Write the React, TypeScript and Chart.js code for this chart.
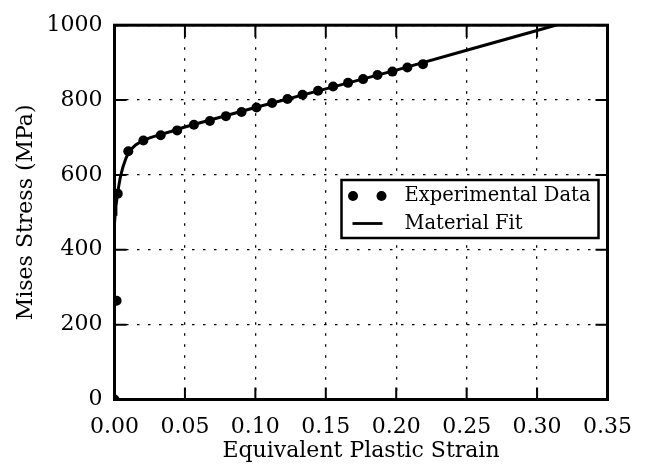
import React, { useEffect, useRef } from "react";
import { Chart, registerables } from "chart.js";

Chart.register(...registerables);

// Experimental data (equivalent plastic strain, Mises stress MPa)
const expStrain = [0, 0.0015, 0.0023, 0.0098, 0.0205, 0.0328, 0.0445, 0.0564, 0.0677, 0.0791, 0.0902, 0.1008, 0.1119, 0.1228, 0.1335, 0.1445, 0.1552, 0.1658, 0.1765, 0.1867, 0.1973, 0.2079, 0.219];
const expStress = [0, 264, 550, 663, 692, 706, 719, 734, 744, 757, 768, 780, 792, 803, 814, 825, 836, 846, 856, 867, 876, 887, 896];

// Material fit curve
const fitStrain = [0, 0.0005, 0.001, 0.002, 0.003, 0.004, 0.005, 0.006, 0.008, 0.01, 0.0125, 0.015, 0.02, 0.025, 0.03, 0.04, 0.05, 0.1, 0.15, 0.2, 0.25, 0.3, 0.313];
const fitStress = [470, 495, 516, 545, 570, 591, 607, 621, 643, 661, 671, 680, 692, 699, 705, 716, 728, 780, 830, 880, 933, 986, 1000];

const xTicks = [0, 0.05, 0.1, 0.15, 0.2, 0.25, 0.3, 0.35];
const yTicks = [0, 200, 400, 600, 800, 1000];

const xTitle = "Equivalent Plastic Strain";
const yTitle = "Mises Stress (MPa)";
const expLabel = "Experimental Data";
const fitLabel = "Material Fit";

const FONT = "'DejaVu Serif', serif";

const framePlugin = {
  id: "frameTicksLegend",
  afterDraw(chart: any) {
    const { ctx, chartArea: a, scales } = chart;
    const xs = scales.x;
    const ys = scales.y;
    ctx.save();
    // inward ticks
    ctx.strokeStyle = "#000";
    ctx.lineWidth = 2;
    ctx.setLineDash([]);
    const tl = 12;
    xTicks.forEach((v) => {
      const px = xs.getPixelForValue(v);
      ctx.beginPath();
      ctx.moveTo(px, a.bottom);
      ctx.lineTo(px, a.bottom - tl);
      ctx.moveTo(px, a.top);
      ctx.lineTo(px, a.top + tl);
      ctx.stroke();
    });
    yTicks.forEach((v) => {
      const py = ys.getPixelForValue(v);
      ctx.beginPath();
      ctx.moveTo(a.left, py);
      ctx.lineTo(a.left + tl, py);
      ctx.moveTo(a.right, py);
      ctx.lineTo(a.right - tl, py);
      ctx.stroke();
    });
    // frame
    ctx.lineWidth = 3;
    ctx.strokeRect(a.left, a.top, a.right - a.left, a.bottom - a.top);

    // legend
    const bx = a.left + 227;
    const by = 180;
    const bw = 257;
    const bh = 58;
    ctx.fillStyle = "#fff";
    ctx.fillRect(bx, by, bw, bh);
    ctx.lineWidth = 2.5;
    ctx.strokeRect(bx, by, bw, bh);
    const r1 = by + 16;
    const r2 = by + 43.5;
    ctx.fillStyle = "#000";
    [bx + 11.5, bx + 40].forEach((cx) => {
      ctx.beginPath();
      ctx.arc(cx, r1, 5, 0, Math.PI * 2);
      ctx.fill();
    });
    ctx.lineWidth = 2.8;
    ctx.beginPath();
    ctx.moveTo(bx + 11, r2);
    ctx.lineTo(bx + 41, r2);
    ctx.stroke();
    ctx.font = "19.5px " + FONT;
    ctx.textAlign = "left";
    ctx.textBaseline = "middle";
    ctx.fillText(expLabel, bx + 63, r1);
    ctx.fillText(fitLabel, bx + 63, r2);
    ctx.restore();
  },
};

export default function App() {
  const ref = useRef<HTMLCanvasElement>(null);
  useEffect(() => {
    if (!ref.current) return;
    const chart = new Chart(ref.current, {
      type: "scatter",
      data: {
        datasets: [
          {
            label: fitLabel,
            data: fitStrain.map((x, i) => ({ x, y: fitStress[i] })),
            showLine: true,
            borderColor: "#000",
            borderWidth: 3,
            pointRadius: 0,
            tension: 0,
            order: 2,
          },
          {
            label: expLabel,
            data: expStrain.map((x, i) => ({ x, y: expStress[i] })),
            showLine: false,
            pointRadius: 5,
            pointBackgroundColor: "#000",
            pointBorderColor: "#000",
            pointBorderWidth: 0,
            order: 1,
          },
        ],
      },
      options: {
        responsive: false,
        animation: false,
        devicePixelRatio: 1,
        layout: { padding: { top: 18.5, right: 39, left: 0, bottom: 0 } },
        plugins: { legend: { display: false }, tooltip: { enabled: false } },
        scales: {
          x: {
            type: "linear",
            min: 0,
            max: 0.35,
            afterFit: (s: any) => {
              s.height = 66.5;
            },
            afterBuildTicks: (s: any) => {
              s.ticks = xTicks.map((v) => ({ value: v }));
            },
            ticks: {
              color: "#000",
              font: { family: FONT, size: 22 },
              padding: 15,
              maxRotation: 0,
              autoSkip: false,
              callback: (v: any) => Number(v).toFixed(2),
            },
            grid: { color: "#000", lineWidth: 1.3, drawTicks: false },
            border: { display: false, dash: [2.5, 8.5] },
            title: {
              display: true,
              text: xTitle,
              color: "#000",
              font: { family: FONT, size: 22 },
              padding: { top: 0, bottom: 2 },
            },
          },
          y: {
            type: "linear",
            min: 0,
            max: 1000,
            afterFit: (s: any) => {
              s.width = 114.5;
            },
            afterBuildTicks: (s: any) => {
              s.ticks = yTicks.map((v) => ({ value: v }));
            },
            ticks: {
              color: "#000",
              font: { family: FONT, size: 22 },
              padding: 12,
              autoSkip: false,
              callback: (v: any) => String(v),
            },
            grid: { color: "#000", lineWidth: 1.3, drawTicks: false },
            border: { display: false, dash: [2.5, 8.5] },
            title: {
              display: true,
              text: yTitle,
              color: "#000",
              font: { family: FONT, size: 22 },
              padding: { top: 13, bottom: 0 },
            },
          },
        },
      },
      plugins: [framePlugin],
    });
    return () => chart.destroy();
  }, []);
  return (
    <div style={{ position: "fixed", left: 0, top: 0, width: 647, height: 466, background: "#fff" }}>
      <canvas ref={ref} width={647} height={466} />
    </div>
  );
}
